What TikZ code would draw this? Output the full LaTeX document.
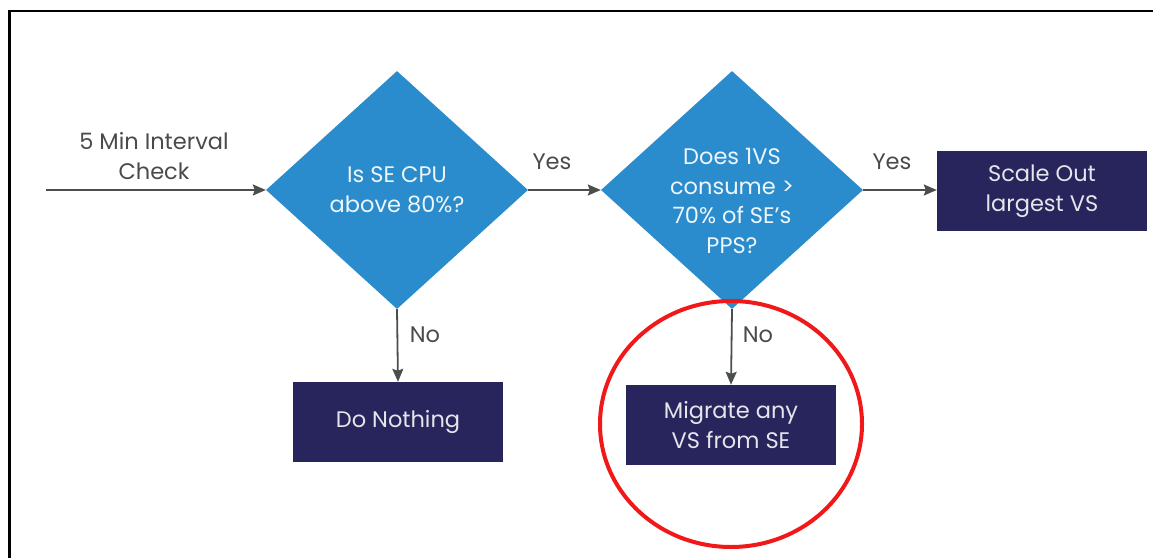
\documentclass[tikz,border=0pt]{standalone}
\usepackage{fontspec}
\setmainfont{Poppins}
\usetikzlibrary{shapes.geometric,arrows.meta}
\definecolor{decblue}{HTML}{2A8CCC}
\definecolor{boxnavy}{HTML}{28255C}
\definecolor{flowgray}{HTML}{4A4F4C}
\definecolor{labelgray}{HTML}{4A4A4A}
\definecolor{ringred}{HTML}{F01818}
\tikzset{
  txtfont/.style={font=\fontsize{22.5}{29.5}\selectfont},
  decision/.style={diamond, fill=decblue, draw=none, inner sep=0pt,
    minimum width=262pt, minimum height=238pt},
  dtext/.style={text=white!92!decblue, align=center, txtfont},
  action/.style={rectangle, fill=boxnavy, draw=none, minimum width=210pt,
    minimum height=80pt, text=white!88!boxnavy, align=center, txtfont},
  flow/.style={draw=flowgray, line width=1.8pt,
    -{Stealth[length=13pt,width=11pt,inset=2pt]}},
  lbl/.style={text=labelgray, align=center, txtfont},
}
\begin{document}
\begin{tikzpicture}[x=1pt,y=1pt]
  \useasboundingbox (0,0) rectangle (1153,558);
  % outer frame (top and left edges only)
  \draw[line width=2.5pt, black] (9.5,0) -- (9.5,547) -- (1153,547);

  % decisions
  \node[decision] (d1) at (397,368) {};
  \node[dtext] (t1) at (d1.center) {Is SE CPU\\above 80\%?};
  \node[decision] (d2) at (732,368) {};
  \node[dtext] (t2) at ([yshift=-11pt]d2.center) {Does 1VS\\consume >\\70\% of SE’s\\PPS?};

  % actions
  \node[action] (scale) at (1042,367) {Scale Out\\largest VS};
  \node[action] (nothing) at (398,136) {Do Nothing};
  \node[action] (migrate) at (731,133) {Migrate any\\VS from SE};

  % entry point
  \coordinate (start) at (46,368);
  \node[lbl] (entry) at (154,402) {5 Min Interval\\Check};

  % connectors
  \draw[flow] (start) -- (d1.west);
  \draw[flow] (d1.east) -- (d2.west);
  \draw[flow] (d2.east) -- (d2.east -| scale.west);
  \draw[flow] (d1.south) -- (nothing.north);
  \draw[flow] (d2.south) -- (migrate.north);

  % connector labels
  \node[lbl] (yes1) at (552,396) {Yes};
  \node[lbl] (yes2) at (892,396) {Yes};
  \node[lbl] (no1) at (425,223) {No};
  \node[lbl] (no2) at (758,223) {No};

  % highlight ring
  \draw[ringred, line width=4pt] (731,134) ellipse [x radius=131, y radius=123];
\end{tikzpicture}
\end{document}
